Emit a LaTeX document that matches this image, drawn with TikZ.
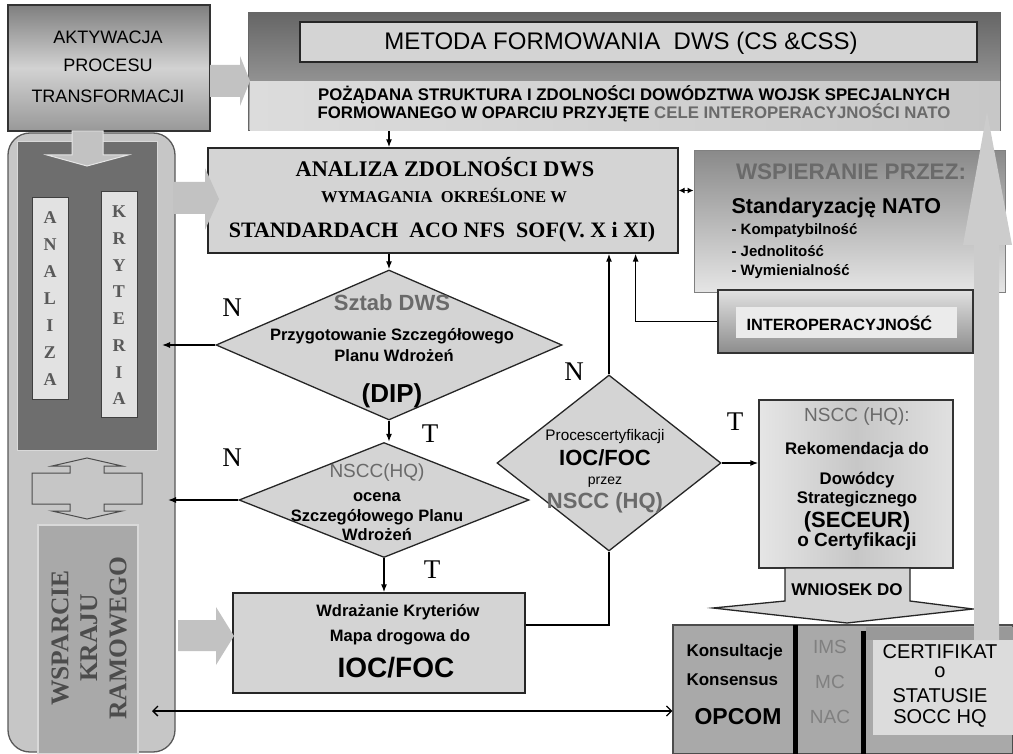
\documentclass[tikz,border=0pt]{standalone}
\usepackage{fontspec}
\setmainfont{Liberation Serif}
\setsansfont{Liberation Sans}
\usetikzlibrary{shapes.geometric,arrows.meta}

\definecolor{boxgrey}{HTML}{D4D4D4}
\definecolor{panelgrey}{HTML}{C6C6C6}
\definecolor{darkgrey}{HTML}{6E6E6E}
\definecolor{colgrey}{HTML}{E2E2E2}
\definecolor{fatgrey}{HTML}{C2C2C2}
\definecolor{textgrey}{HTML}{6A6A6A}
\definecolor{lightgrey}{HTML}{DCDCDC}
\definecolor{midgrey}{HTML}{A9A9A9}
\definecolor{aktdark}{HTML}{7F7F7F}
\definecolor{aktlight}{HTML}{D2D2D2}
\definecolor{wsdark}{HTML}{8A8A8A}
\definecolor{wslight}{HTML}{E6E6E6}

\newcommand{\fsz}[1]{\fontsize{#1}{#1}\selectfont}

\begin{document}
\begin{tikzpicture}[x=1pt,y=-1pt,
  box/.style={draw=black!85,line width=1.3pt,fill=boxgrey,inner sep=0pt},
  dia/.style={diamond,draw=black!85,line width=1.3pt,fill=boxgrey,inner sep=0pt},
  col/.style={fill=colgrey,draw=black!75,line width=1pt,minimum width=36pt,inner sep=0pt},
  fat/.style={fill=fatgrey,draw=none},
  arr/.style={line width=1.3pt,-{Latex[length=8pt,width=6pt]}},
  dblarr/.style={line width=1.3pt,{Latex[length=6pt,width=6pt]}-{Latex[length=6pt,width=6pt]}},
  openarr/.style={line width=1.3pt,{Straight Barb[length=5pt,width=10pt]}-{Straight Barb[length=5pt,width=10pt]}},
  lab/.style={font=\fsz{27}},
  letter/.style={font=\bfseries\fsz{18},text=black!65},
  sf/.style={font=\sffamily\bfseries\fsz{#1}},
  sfr/.style={font=\sffamily\fsz{#1}},
  ser/.style={font=\bfseries\fsz{#1}}]

  \useasboundingbox (0,0) rectangle (1013,754);

  % Left panel
  \node[draw=black!65,line width=1.3pt,fill=panelgrey,rounded corners=22pt,
        minimum width=167pt,minimum height=619pt,inner sep=0pt] (panel) at (91.5,442.5) {};
  \node[fill=darkgrey,draw=white!85!black,line width=1pt,minimum width=140pt,
        minimum height=308pt,inner sep=0pt] (ciemne) at (87,296) {};
  \node[col,minimum height=201pt] (analizacol) at (50,298.5) {};
  \node[col,minimum height=225pt] (kryteriacol) at (119,304.5) {};
  \foreach \l [count=\i from 0] in {A,N,A,L,I,Z,A}
    \node[letter] (an\i) at (50,{218+27*\i}) {\l};
  \foreach \l [count=\i from 0] in {K,R,Y,T,E,R,I,A}
    \node[letter] (kr\i) at (119,{212+26.7*\i}) {\l};

  % Double block arrow
  \filldraw[fill=panelgrey,draw=black!70,line width=1pt] (87,458) -- (122,466) -- (104,466)
    -- (104,473) -- (142,473) -- (142,504) -- (104,504) -- (104,511) -- (122,511)
    -- (87,519) -- (52,511) -- (70,511) -- (70,504) -- (32,504) -- (32,473)
    -- (70,473) -- (70,466) -- (52,466) -- cycle;

  \node[fill=midgrey,draw=white!85!black,line width=1.5pt,minimum width=100pt,
        minimum height=229pt,inner sep=0pt] (wsparcie) at (88,639.5) {};
  \node[rotate=90,align=center,font=\bfseries\fontsize{25.5}{29}\selectfont,text=black!70]
        (wsparcie-t) at (89,638) {WSPARCIE\\KRAJU\\RAMOWEGO};

  % Activation box
  \node[draw=black!80,line width=1.3pt,top color=aktdark,bottom color=aktdark!80!white,
        middle color=aktlight,minimum width=202pt,minimum height=126pt,inner sep=0pt] (aktyw) at (109,68) {};
  \node[sfr=18] (aktyw-t1) at (108,37) {AKTYWACJA};
  \node[sfr=18] (aktyw-t2) at (108,65) {PROCESU};
  \node[sfr=18] (aktyw-t3) at (108,96) {TRANSFORMACJI};

  % Method box
  \node[draw=black!60,line width=1pt,top color=black!60,bottom color=black!30,
        minimum width=752pt,minimum height=118pt,inner sep=0pt] (metodabg) at (624,72) {};
  \node[left color=lightgrey,right color=black!22,minimum width=750pt,minimum height=49pt,
        inner sep=0pt] (pozband) at (625,106.5) {};
  \node[box,minimum width=677pt,minimum height=40pt] (metoda) at (638.5,42) {};
  \node[sfr=24] (metoda-t) at (621,43) {METODA FORMOWANIA\ \ DWS (CS \&CSS)};
  \node[sf=16.8] (poz-t1) at (634,95) {POŻĄDANA STRUKTURA I ZDOLNOŚCI DOWÓDZTWA WOJSK SPECJALNYCH};
  \node[sf=16.8] (poz-t2) at (634,113) {FORMOWANEGO W OPARCIU PRZYJĘTE \textcolor{textgrey}{CELE INTEROPERACYJNOŚCI NATO}};

  % Analysis box
  \node[box,minimum width=470pt,minimum height=105pt] (analiza) at (443,200.5) {};
  \node[ser=22.3] (analiza-t1) at (445,167) {ANALIZA ZDOLNOŚCI DWS};
  \node[ser=16.6] (analiza-t2) at (444,196) {WYMAGANIA\ \ OKREŚLONE W};
  \node[ser=22] (analiza-t3) at (442,232) {STANDARDACH\ \ ACO NFS\ \ SOF(V. X i XI)};

  % Support box
  \node[draw=black!50,line width=1pt,top color=wsdark,bottom color=wslight,
        minimum width=311pt,minimum height=142pt,inner sep=0pt] (wspier) at (849.5,222) {};
  \node[sf=22.5,text=textgrey] (wspier-t) at (851,172) {WSPIERANIE PRZEZ:};
  \node[sf=21.5,anchor=west] (stand) at (728,208) {Standaryzację NATO};
  \node[sf=15,anchor=west] (stand1) at (728,231) {- Kompatybilność};
  \node[sf=15,anchor=west] (stand2) at (728,251) {- Jednolitość};
  \node[sf=15,anchor=west] (stand3) at (728,272) {- Wymienialność};

  \node[draw=black!80,line width=1.3pt,top color=white!88!black,bottom color=black!45,
        minimum width=255pt,minimum height=63pt,inner sep=0pt] (interop) at (845.5,321.5) {};
  \node[fill=white!92!black,minimum width=221pt,minimum height=31pt,inner sep=0pt] (interop-in) at (846.5,322.5) {};
  \node[sf=16.3,anchor=west] (interop-t) at (743,323) {INTEROPERACYJNOŚĆ};

  % Decisions
  \node[dia,minimum width=346pt,minimum height=150pt] (sztab) at (389,345) {};
  \node[sf=22,text=textgrey] (sztab-t1) at (392,303) {Sztab DWS};
  \node[sf=16.5] (sztab-t2) at (392,336) {Przygotowanie Szczegółowego};
  \node[sf=16.5] (sztab-t3) at (394,356) {Planu Wdrożeń};
  \node[sf=26] (sztab-t4) at (392,396) {(DIP)};

  \node[dia,minimum width=290pt,minimum height=115pt] (ocena) at (384,500) {};
  \node[sfr=19,text=textgrey] (ocena-t1) at (377,473) {NSCC(HQ)};
  \node[sf=16.5] (ocena-t2) at (377,497) {ocena};
  \node[sf=16.5] (ocena-t3) at (377,517) {Szczegółowego Planu};
  \node[sf=16.5] (ocena-t4) at (377,535) {Wdrożeń};

  \node[dia,minimum width=224pt,minimum height=176pt] (proces) at (609,463) {};
  \node[sfr=15.3] (proces-t1) at (605,437) {Procescertyfikacji};
  \node[sf=22] (proces-t2) at (605,458) {IOC/FOC};
  \node[sfr=14] (proces-t3) at (605,482) {przez};
  \node[sf=22,text=textgrey] (proces-t4) at (605,503) {NSCC (HQ)};

  % Implementation box
  \node[box,minimum width=292pt,minimum height=100pt] (wdraz) at (379,643) {};
  \node[sf=16.5] (wdraz-t1) at (398,612) {Wdrażanie Kryteriów};
  \node[sf=16.5] (wdraz-t2) at (400,637) {Mapa drogowa do};
  \node[sf=28] (wdraz-t3) at (396,668) {IOC/FOC};

  % Recommendation box
  \node[draw=black!80,line width=1.3pt,left color=white!90!black,right color=white!88!black,
        middle color=black!22,minimum width=194pt,minimum height=168pt,inner sep=0pt] (rekom) at (856,484) {};
  \node[sfr=19,text=textgrey] (rekom-t1) at (857,417) {NSCC (HQ):};
  \node[sf=16.8] (rekom-t2) at (857,450) {Rekomendacja do};
  \node[sf=16.8] (rekom-t3) at (857,480) {Dowódcy};
  \node[sf=16.8] (rekom-t4) at (857,499) {Strategicznego};
  \node[sf=22] (rekom-t5) at (857,522) {(SECEUR)};
  \node[sf=19] (rekom-t6) at (857,542) {o Certyfikacji};

  % Bottom box
  \node[draw=black!70,line width=1.2pt,fill=midgrey,minimum width=340pt,minimum height=129pt,
        inner sep=0pt] (dolny) at (843,689.5) {};
  \fill[black] (793,625) rectangle (798,754);
  \fill[black] (861,631) rectangle (866,754);
  \fill[black!40] (866,627) rectangle (1013,640);
  \node[fill=lightgrey,minimum width=140pt,minimum height=95pt,inner sep=0pt] (certyf) at (943,687.5) {};
  \node[sf=17,anchor=west] (opcom-t1) at (683,652) {Konsultacje};
  \node[sf=17,anchor=west] (opcom-t2) at (683,680) {Konsensus};
  \node[sf=23] (opcom-t3) at (738,717) {OPCOM};
  \node[sfr=19,text=black!50] (ims) at (830,647) {IMS};
  \node[sfr=19,text=black!50] (mc) at (830,682) {MC};
  \node[sfr=19,text=black!50] (nac) at (830,717) {NAC};
  \node[sfr=20] (certyf-t1) at (940,652) {CERTIFIKAT};
  \node[sfr=20] (certyf-t2) at (940,672) {o};
  \node[sfr=20] (certyf-t3) at (940,696) {STATUSIE};
  \node[sfr=20] (certyf-t4) at (940,718) {SOCC HQ};

  % Request arrow
  \filldraw[fill=boxgrey,draw=black!85,line width=1.3pt] (785,568) -- (910,568) -- (910,601)
    -- (973,609) -- (847,623) -- (713,608) -- (785,601) -- cycle;
  \node[sf=17] (wniosek) at (847,590) {WNIOSEK DO};

  % Block arrows
  \fill[fat] (210,65) -- (240,65) -- (240,56) -- (250,81) -- (240,106) -- (240,97) -- (210,97) -- cycle;
  \filldraw[fat,draw=white!90!black,line width=1pt] (72,131) -- (103,131) -- (103,155)
    -- (128,155) -- (87,166) -- (47,155) -- (72,155) -- cycle;
  \fill[fat] (173,182) -- (205,182) -- (205,168) -- (219,199) -- (205,230) -- (205,214) -- (173,214) -- cycle;
  \fill[fat] (178,620) -- (216,620) -- (216,607) -- (234,636) -- (216,665) -- (216,651) -- (178,651) -- cycle;
  \fill[white!80!black] (974,640) -- (974,245) -- (963,245) -- (987,112) -- (1012,245)
    -- (999,245) -- (999,640) -- cycle;

  % Connectors
  \coordinate (pin1) at (162,345);
  \coordinate (pin2) at (168,500);
  \coordinate (pin3) at (152,711);
  \draw[arr] (pozband.south -| sztab.north) -- (analiza.north -| sztab.north);
  \draw[arr] (analiza.south -| sztab.north) -- (sztab.north);
  \draw[arr] (sztab.south) -- (sztab.south |- ocena.north);
  \draw[arr] (ocena.south) -- (ocena.south |- wdraz.north);
  \draw[arr] (sztab.west) -- (pin1);
  \draw[arr] (ocena.west) -- (pin2);
  \draw[line width=1.3pt] ([yshift=18pt]wdraz.east) -| (proces.south);
  \draw[arr] (proces.north) -- (proces.north |- analiza.south);
  \draw[arr] (proces.east) -- (proces.east -| rekom.west);
  \draw[arr] (interop.west) -| ([xshift=-43pt]analiza.south east);
  \draw[dblarr] ([yshift=10pt]analiza.east) -- ([yshift=10pt]analiza.east -| wspier.west);
  \draw[openarr] (pin3) -- (pin3 -| dolny.west);

  % Labels
  \node[lab] (n1) at (232,308) {N};
  \node[lab] (t1) at (430,434) {T};
  \node[lab] (n2) at (232,458) {N};
  \node[lab] (t2) at (432,570) {T};
  \node[lab] (n3) at (574,372) {N};
  \node[lab] (t3) at (735,422) {T};

\end{tikzpicture}
\end{document}
